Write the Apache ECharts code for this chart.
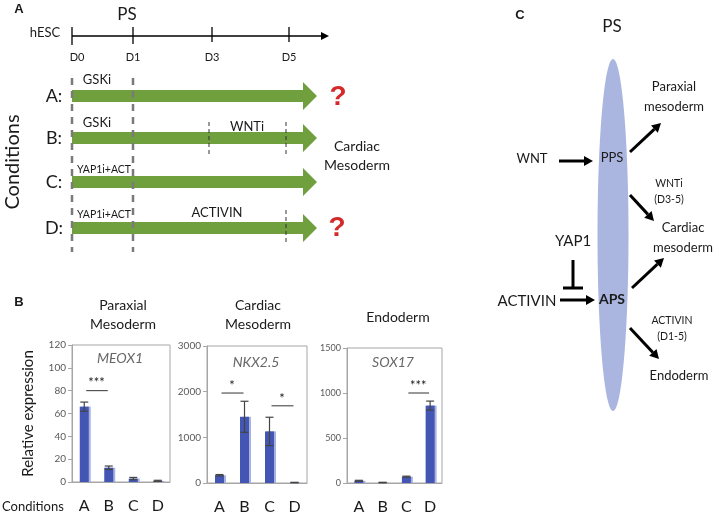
<!DOCTYPE html>
<html><head><meta charset="utf-8">
<script src="https://cdn.jsdelivr.net/npm/echarts@6/dist/echarts.min.js"></script>
<style>html,body{margin:0;padding:0;background:#fff}#c{width:723px;height:517px}</style>
</head><body><div id="c"></div>
<script>
// ---- data ----
const categories = ['A', 'B', 'C', 'D'];
const meox1 = [66, 12.5, 3, 1];
const meox1Err = [4, 1.5, 1, 0.5];
const nkx25 = [170, 1450, 1130, 10];
const nkx25Err = [15, 340, 310, 5];
const sox17 = [25, 5, 70, 860];
const sox17Err = [5, 3, 6, 50];
const meox1Axis = [0, 120, 20];     // min, max, interval
const nkx25Axis = [0, 3000, 1000];
const sox17Axis = [0, 1500, 500];
const meox1Sig = [[0, 1, 80]];
const meox1Stars = ['***'];
const nkx25Sig = [[0, 1, 1970], [2, 3, 1690]];
const nkx25Stars = ['*', '*'];
const sox17Sig = [[2, 3, 1000]];
const sox17Stars = ['***'];
const panelTitles = [['Paraxial', 'Mesoderm'], ['Cardiac', 'Mesoderm'], ['Endoderm']];
const geneNames = ['MEOX1', 'NKX2.5', 'SOX17'];

const F = 'Lato, "Open Sans", sans-serif';
const chart = echarts.init(document.getElementById('c'));

function T(x, y, text, size, o) {
  o = o || {};
  return { type: 'text', x: x, y: y, rotation: o.rot || 0, z: 10,
    style: { text: text, fontSize: size, fontFamily: o.family || F, fontWeight: o.weight || 'normal',
      fontStyle: o.style || 'normal', fill: o.fill || '#1a1a1a', align: o.align || 'center',
      verticalAlign: 'middle' } };
}
function L(x1, y1, x2, y2, w, c, dash) {
  return { type: 'line', z: 5, shape: { x1: x1, y1: y1, x2: x2, y2: y2 },
    style: { stroke: c || '#000', lineWidth: w, lineDash: dash || null } };
}
function arrow(x1, y1, x2, y2, w, hl, hw) {
  const dx = x2 - x1, dy = y2 - y1, len = Math.hypot(dx, dy), ux = dx / len, uy = dy / len;
  const bx = x2 - ux * hl, by = y2 - uy * hl, px = -uy, py = ux;
  return [L(x1, y1, bx, by, w, '#000'),
    { type: 'polygon', z: 5, shape: { points: [[x2, y2], [bx + px * hw, by + py * hw], [bx - px * hw, by - py * hw]] }, style: { fill: '#000' } }];
}
function greenArrow(yc) {
  return { type: 'polygon', z: 3, shape: { points: [[72, yc - 6], [303, yc - 6], [303, yc - 14], [317, yc], [303, yc + 14], [303, yc + 6], [72, yc + 6]] },
    style: { fill: '#70a03e' } };
}

const g = [];
// Panel A
g.push(T(19, 9, 'A', 13, { weight: 'bold', family: '"Liberation Sans", Arial' }));
g.push(T(127, 15, 'PS', 17));
g.push(T(45, 33, 'hESC', 13));
g.push(L(72, 36, 322, 36, 1.3, '#000'));
g.push({ type: 'polygon', shape: { points: [[329, 36], [321, 32], [321, 40]] }, style: { fill: '#000' } });
[[72, 45, 'D0'], [133, 44, 'D1'], [212, 42, 'D3'], [289, 42, 'D5']].forEach(function (t) {
  g.push(L(t[0], 27, t[0], t[1], 1.3, '#000'));
  g.push(T(t[0] + (t[2] === 'D0' ? 5 : 0), 57, t[2], 11));
});
[96, 138, 182, 228].forEach(function (y) { g.push(greenArrow(y)); });
[['A:', 96], ['B:', 138], ['C:', 182], ['D:', 228]].forEach(function (t) { g.push(T(54, t[1], t[0], 18)); });
g.push(L(72, 78, 72, 252, 2.5, '#7a7a7a', [7, 6]));
g.push(L(133, 78, 133, 252, 2.5, '#7a7a7a', [7, 6]));
g.push(L(209, 122, 209, 155, 1, '#333', [4, 3]));
g.push(L(286, 122, 286, 155, 1, '#333', [4, 3]));
g.push(L(286, 210, 286, 243, 1, '#333', [4, 3]));
g.push(T(97, 80, 'GSKi', 13));
g.push(T(97, 123, 'GSKi', 13));
g.push(T(247, 127, 'WNTi', 13));
g.push(T(104, 170, 'YAP1i+ACT', 10.5));
g.push(T(104, 215, 'YAP1i+ACT', 10.5));
g.push(T(217, 213, 'ACTIVIN', 13));
g.push(T(338, 97, '?', 28, { weight: 'bold', fill: '#d42a2a', family: '"Liberation Sans", Arial' }));
g.push(T(337, 228, '?', 28, { weight: 'bold', fill: '#d42a2a', family: '"Liberation Sans", Arial' }));
g.push(T(357, 146, 'Cardiac', 14));
g.push(T(357, 165, 'Mesoderm', 14));
g.push(T(13, 162, 'Conditions', 20, { rot: Math.PI / 2 }));
// Panel B
g.push(T(19, 302, 'B', 13, { weight: 'bold', family: '"Liberation Sans", Arial' }));
g.push(T(123, 305, panelTitles[0][0], 14));
g.push(T(123, 324, panelTitles[0][1], 14));
g.push(T(258, 305, panelTitles[1][0], 14));
g.push(T(258, 324, panelTitles[1][1], 14));
g.push(T(398, 317, panelTitles[2][0], 14));
g.push(T(120, 358, geneNames[0], 14, { style: 'italic', fill: '#666' }));
g.push(T(256, 362, geneNames[1], 14, { style: 'italic', fill: '#666' }));
g.push(T(393, 362, geneNames[2], 14, { style: 'italic', fill: '#666' }));
g.push(T(2, 507, 'Conditions', 13, { align: 'left' }));
// Panel C
g.push(T(520, 15, 'C', 13, { weight: 'bold', family: '"Liberation Sans", Arial' }));
g.push(T(612, 27, 'PS', 17));
g.push({ type: 'ellipse', z: 1, shape: { cx: 613, cy: 235, rx: 15.5, ry: 176 }, style: { fill: '#aab6df' } });
g.push(T(674, 87, 'Paraxial', 13));
g.push(T(674, 107, 'mesoderm', 13));
g.push(T(532, 159, 'WNT', 13));
g.push(T(612, 158, 'PPS', 13));
g.push(T(669, 184, 'WNTi', 10.5));
g.push(T(669, 200, '(D3-5)', 10.5));
g.push(T(683, 228, 'Cardiac', 13));
g.push(T(683, 248, 'mesoderm', 13));
g.push(T(573, 241, 'YAP1', 15));
g.push(L(573, 260, 573, 288, 3, '#000'));
g.push(L(563, 288, 583, 288, 3, '#000'));
g.push(T(527, 301, 'ACTIVIN', 15));
g.push(T(612, 299, 'APS', 14, { weight: 'bold' }));
g.push(T(672, 321, 'ACTIVIN', 10.5));
g.push(T(672, 337, '(D1-5)', 10.5));
g.push(T(679, 376, 'Endoderm', 13));
[[559, 161, 593, 161], [630, 152, 661, 123], [630, 195, 654, 221], [560, 300, 595, 300], [632, 288, 664, 258], [630, 328, 659, 359]]
  .forEach(function (a) { arrow(a[0], a[1], a[2], a[3], 3, 9, 5).forEach(function (e) { g.push(e); }); });

// ---- charts ----
const grids = [
  { left: 72, top: 345, width: 98, height: 137 },
  { left: 207, top: 346, width: 100, height: 137 },
  { left: 347, top: 348, width: 95, height: 135 }
];
const vals = [meox1, nkx25, sox17], errs = [meox1Err, nkx25Err, sox17Err];
const axes = [meox1Axis, nkx25Axis, sox17Axis];
const sigs = [meox1Sig, nkx25Sig, sox17Sig], stars = [meox1Stars, nkx25Stars, sox17Stars];

const option = { animation: false, grid: [], xAxis: [], yAxis: [], series: [], graphic: g };
grids.forEach(function (gr, i) {
  option.grid.push(Object.assign({ show: true, borderColor: '#a6a6a6', borderWidth: 1, backgroundColor: 'transparent' }, gr));
  option.xAxis.push({ type: 'category', gridIndex: i, data: categories,
    axisLine: { lineStyle: { color: '#a6a6a6' } }, axisTick: { show: false },
    axisLabel: { color: '#1a1a1a', fontSize: 16, fontFamily: F, margin: 16 } });
  option.yAxis.push({ type: 'value', gridIndex: i, min: axes[i][0], max: axes[i][1], interval: axes[i][2],
    axisLine: { show: true, lineStyle: { color: '#a6a6a6' } }, axisTick: { show: true, length: 4, lineStyle: { color: '#a6a6a6' } },
    splitLine: { show: false },
    axisLabel: { color: '#595959', fontSize: i === 2 ? 9 : 10, fontFamily: F, margin: 6,
      formatter: function (v) { return String(v); } },
    name: i === 0 ? 'Relative expression' : '', nameLocation: 'middle', nameGap: 36,
    nameTextStyle: { fontSize: 15, fontFamily: F, color: '#1a1a1a' } });
  option.series.push({ type: 'bar', xAxisIndex: i, yAxisIndex: i, data: vals[i], barWidth: 9,
    itemStyle: { color: '#4356b4', shadowColor: '#a9b2e2', shadowOffsetX: 2, shadowBlur: 0 } });
  option.series.push({ type: 'custom', xAxisIndex: i, yAxisIndex: i, z: 5,
    data: vals[i].map(function (v, k) { return [k, Math.max(0, v - errs[i][k]), v + errs[i][k]]; }),
    encode: { x: 0, y: [1, 2] },
    renderItem: function (params, api) {
      const x = api.value(0), p1 = api.coord([x, api.value(2)]), p2 = api.coord([x, api.value(1)]), w = 4;
      const st = { stroke: '#444', lineWidth: 1.2 };
      return { type: 'group', children: [
        { type: 'line', shape: { x1: p1[0], y1: p1[1], x2: p2[0], y2: p2[1] }, style: st },
        { type: 'line', shape: { x1: p1[0] - w, y1: p1[1], x2: p1[0] + w, y2: p1[1] }, style: st },
        { type: 'line', shape: { x1: p2[0] - w, y1: p2[1], x2: p2[0] + w, y2: p2[1] }, style: st }] };
    } });
  const sArr = stars[i];
  option.series.push({ type: 'custom', xAxisIndex: i, yAxisIndex: i, z: 5,
    data: sigs[i], encode: { x: [0, 1], y: 2 },
    renderItem: function (params, api) {
      const p1 = api.coord([api.value(0), api.value(2)]), p2 = api.coord([api.value(1), api.value(2)]);
      return { type: 'group', children: [
        { type: 'line', shape: { x1: p1[0] + 2, y1: p1[1], x2: p2[0] - 1, y2: p2[1] }, style: { stroke: '#333', lineWidth: 1 } },
        { type: 'text', x: (p1[0] + p2[0]) / 2, y: p1[1] - 1,
          style: { text: sArr[params.dataIndex], fontSize: 13, fontFamily: F, fill: '#1a1a1a', align: 'center', verticalAlign: 'bottom' } }] };
    } });
});
chart.setOption(option);
</script></body></html>
